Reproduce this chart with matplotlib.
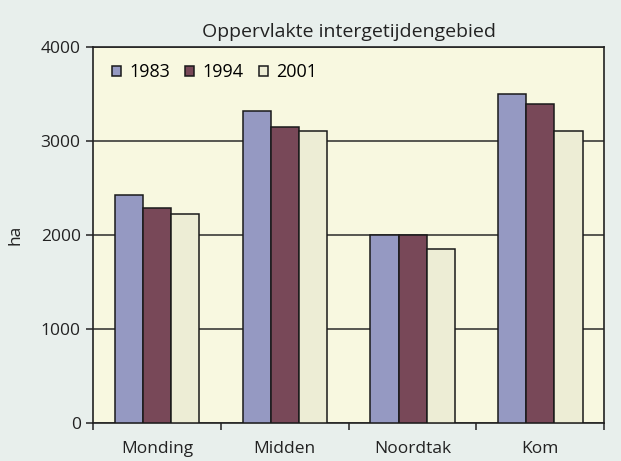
import numpy as np
import matplotlib.pyplot as plt

plt.rcParams['font.family'] = ['Open Sans', 'DejaVu Sans']

categories = ['Monding', 'Midden', 'Noordtak', 'Kom']
years = ['1983', '1994', '2001']
v1983 = [2430, 3320, 2000, 3500]
v1994 = [2290, 3150, 2000, 3390]
v2001 = [2220, 3110, 1850, 3110]
colors = ['#9599c2', '#784858', '#ededd5']

fig = plt.figure(figsize=(6.21, 4.61), dpi=100, facecolor='#e8efec')
ax = fig.add_axes([0.150, 0.082, 0.823, 0.816], facecolor='#f8f8e0')

x = np.arange(len(categories))
w = 0.22
for i, (vals, lab, c) in enumerate(zip([v1983, v1994, v2001], years, colors)):
    ax.bar(x + (i - 1) * w, vals, w, color=c, edgecolor='#1a1a1a', linewidth=1.1,
           label=lab, zorder=3)

ax.set_xlim(-0.5, len(categories) - 0.5)
ax.set_ylim(0, 4000)
ax.set_yticks([0, 1000, 2000, 3000, 4000])
ax.yaxis.grid(True, color='#2a2a2a', linewidth=1.1, zorder=0)
ax.set_axisbelow(True)

ax.set_xticks(x)
ax.set_xticklabels(categories, fontsize=12.5, color='#222222')
ax.tick_params(axis='x', length=0, pad=13)
ax.set_xticks(np.arange(len(categories) + 1) - 0.5, minor=True)
ax.tick_params(axis='x', which='minor', length=5, width=1.1, direction='out', color='#222222')
ax.tick_params(axis='y', labelsize=12.5, length=5, width=1.1, color='#222222',
               labelcolor='#222222', pad=4)

for s in ax.spines.values():
    s.set_color('#222222')
    s.set_linewidth(1.2)

ax.set_ylabel('ha', fontsize=12.5, color='#222222', labelpad=12)
ax.set_title('Oppervlakte intergetijdengebied', fontsize=14, color='#222222', pad=7)

ax.legend(loc='upper left', ncol=3, frameon=False, fontsize=13, handlelength=0.5,
          handleheight=0.5, handletextpad=0.45, columnspacing=0.85,
          bbox_to_anchor=(0.005, 1.0))

fig.savefig('out.png', dpi=100, facecolor=fig.get_facecolor())
